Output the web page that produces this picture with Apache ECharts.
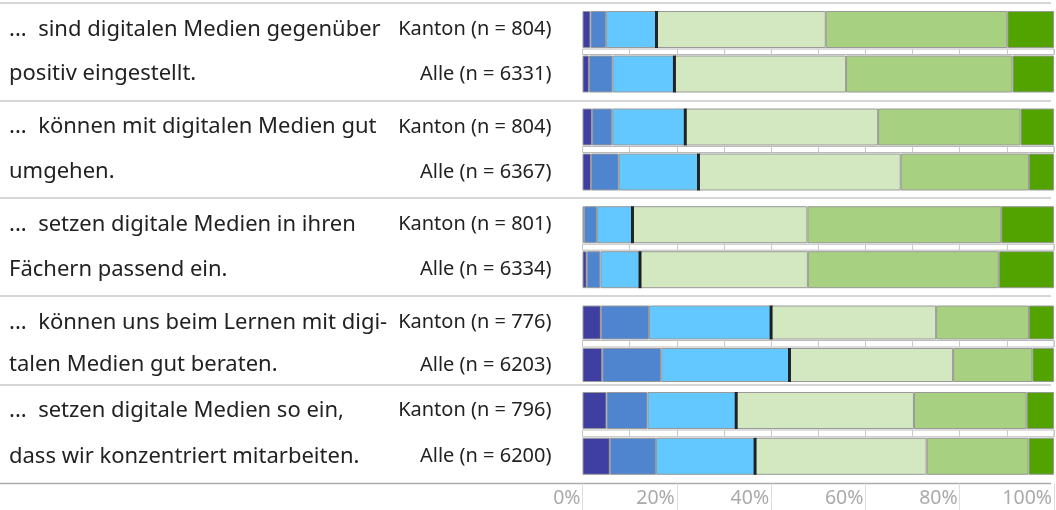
<!DOCTYPE html>
<html>
<head>
<meta charset="utf-8" />
<title></title>
<script src="https://cdn.jsdelivr.net/npm/echarts@6/dist/echarts.min.js"></script>
<style>
	* { margin: 0; padding: 0; }
	body, html { background: #fff; }
	#main { width: 1056px; height: 510px; }
</style>
</head>
<body>
<div id="main"></div>
<script>
	// Fragen (zwei Zeilen je Frage)
	var questions = [
		['...  sind digitalen Medien gegenüber', 'positiv eingestellt.'],
		['...  können mit digitalen Medien gut', 'umgehen.'],
		['...  setzen digitale Medien in ihren', 'Fächern passend ein.'],
		['...  können uns beim Lernen mit digi-', 'talen Medien gut beraten.'],
		['...  setzen digitale Medien so ein,', 'dass wir konzentriert mitarbeiten.']
	];
	var groups = [
		['Kanton (n = 804)', 'Alle (n = 6331)'],
		['Kanton (n = 804)', 'Alle (n = 6367)'],
		['Kanton (n = 801)', 'Alle (n = 6334)'],
		['Kanton (n = 776)', 'Alle (n = 6203)'],
		['Kanton (n = 796)', 'Alle (n = 6200)']
	];
	// Anteile in %, je Balken (Kanton, Alle, Kanton, Alle, ...)
	var seg1 = [1.7, 1.4, 2.0, 1.8, 0.3, 0.9, 3.9, 4.2, 5.1, 5.8];
	var seg2 = [3.3, 5.0, 4.3, 5.9, 2.8, 2.9, 10.2, 12.5, 8.7, 9.8];
	var seg3 = [10.7, 13.1, 15.5, 16.9, 7.5, 8.4, 25.9, 27.2, 18.8, 21.0];
	var seg4 = [35.9, 36.4, 40.9, 42.9, 37.1, 35.6, 35.0, 34.7, 37.7, 36.4];
	var seg5 = [38.5, 35.3, 30.2, 27.2, 41.1, 40.5, 19.7, 16.8, 23.9, 21.6];
	var seg6 = [9.9, 8.8, 7.1, 5.3, 11.2, 11.7, 5.3, 4.6, 5.8, 5.4];
	var tickValues = [0, 20, 40, 60, 80, 100];

	var segs = [seg1, seg2, seg3, seg4, seg5, seg6];
	var colors = ['#3f3fa2', '#4f84cf', '#62c8ff', '#d3e8c0', '#a7d180', '#52a300'];

	var font = 'Noto Sans';
	var left = 582.5, right = 2;
	var tops = [7.25, 104.5, 202.2, 301.25, 387.6];
	var heights = [89, 90, 90, 85, 91.6];
	var barW = [37, 37, 37, 34, 37];

	var grid = [], xAxis = [], yAxis = [], series = [];

	// Balken-Grids
	for (var g = 0; g < 5; g++) {
		grid.push({ left: left, right: right, top: tops[g], height: heights[g] });
		xAxis.push({ gridIndex: g, type: 'value', min: 0, max: 100, show: false });
		yAxis.push({
			gridIndex: g, type: 'category', inverse: true, data: groups[g],
			axisLine: { show: false }, axisTick: { show: false }, splitLine: { show: false },
			axisLabel: { margin: 31, fontSize: 20, color: '#222', fontFamily: font, padding: [3, 0, 0, 0] }
		});
		yAxis.push({
			gridIndex: g, type: 'category', inverse: true, data: questions[g], position: 'left', offset: 0,
			axisLine: { show: false }, axisTick: { show: false }, splitLine: { show: false },
			axisLabel: { margin: left - 9, align: 'left', fontSize: 22, color: '#222', fontFamily: font, padding: [3, 0, 0, 0] }
		});
	}
	// Zwischenräume mit 10%-Strichen
	for (var g = 0; g < 5; g++) {
		var gapH = heights[g] / 2 - barW[g];
		grid.push({
			left: left, right: right, top: tops[g] + heights[g] / 4 + barW[g] / 2 + 1, height: gapH - 2,
			show: true, borderColor: '#bbb', borderWidth: 1, backgroundColor: '#fff'
		});
		xAxis.push({
			gridIndex: 5 + g, type: 'value', min: 0, max: 100, interval: 10,
			axisLine: { show: false }, axisTick: { show: false }, axisLabel: { show: false },
			splitLine: { show: true, lineStyle: { color: '#c8c8c8', width: 1 } }
		});
		yAxis.push({ gridIndex: 5 + g, type: 'value', show: false });
	}
	// Achse unten
	grid.push({ left: left, right: right, top: 483.5, height: 27 });
	xAxis.push({
		gridIndex: 10, type: 'value', min: 0, max: 100, interval: 20, position: 'top',
		axisLine: { show: false }, axisTick: { show: false },
		splitLine: { show: true, lineStyle: { color: '#ddd', width: 1 } },
		axisLabel: {
			inside: true, align: 'right', margin: 5, fontSize: 19.5, color: '#aaa', fontFamily: font,
			padding: [0, 2, 0, 0],
			formatter: function(v) { return tickValues.indexOf(v) >= 0 ? v + '%' : ''; }
		}
	});
	yAxis.push({ gridIndex: 10, type: 'value', show: false });

	for (var g = 0; g < 5; g++) {
		for (var s = 0; s < 6; s++) {
			series.push({
				type: 'bar', xAxisIndex: g, yAxisIndex: 2 * g, stack: 'g' + g, barWidth: barW[g],
				data: [segs[s][2 * g], segs[s][2 * g + 1]],
				itemStyle: { color: colors[s], borderColor: '#999', borderWidth: 1 },
				silent: true
			});
		}
		var marks = [];
		for (var k = 0; k < 2; k++) {
			var i = 2 * g + k;
			marks.push([seg1[i] + seg2[i] + seg3[i], k]);
		}
		series.push({
			type: 'scatter', xAxisIndex: g, yAxisIndex: 2 * g, symbol: 'rect',
			symbolSize: [3, barW[g]], itemStyle: { color: '#000' }, data: marks, z: 5, silent: true
		});
	}

	// Trennlinien
	var graphic = [];
	[3, 101, 198, 296, 385].forEach(function(y) {
		graphic.push({ type: 'line', shape: { x1: 0, y1: y, x2: 1051, y2: y }, style: { stroke: '#d6d6d6', lineWidth: 2 } });
	});
	graphic.push({ type: 'line', shape: { x1: 0, y1: 483.5, x2: 1051, y2: 483.5 }, style: { stroke: '#aaa', lineWidth: 1.5 } });

	var myChart = echarts.init(document.getElementById('main'));
	myChart.setOption({
		animation: false,
		grid: grid,
		xAxis: xAxis,
		yAxis: yAxis,
		series: series,
		graphic: graphic
	});
</script>
</body>
</html>
